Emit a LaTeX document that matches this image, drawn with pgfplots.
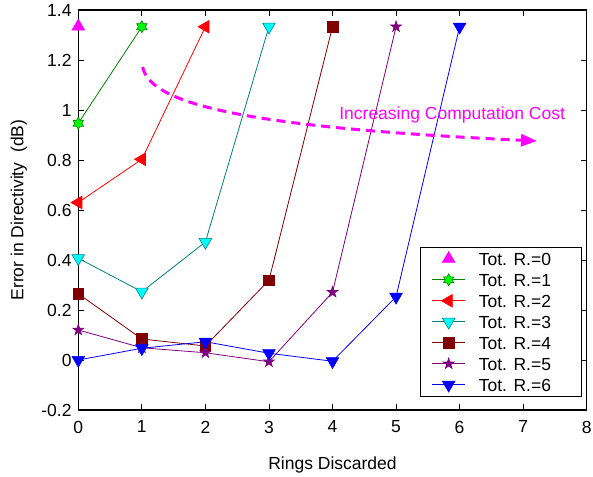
\documentclass[border=0pt]{standalone}
\usepackage{fontspec}
\setmainfont{Liberation Sans}
\usepackage{pgfplots}
\pgfplotsset{compat=1.18}
\usetikzlibrary{arrows.meta}
\newcommand\fs{\fontsize{17.5}{21}\selectfont}
\definecolor{mmag}{rgb}{1,0,1}
\definecolor{mcyan}{rgb}{0,1,1}
\definecolor{mlgreen}{rgb}{0,1,0}
\definecolor{mgreen}{rgb}{0,0.5,0}
\definecolor{mteal}{rgb}{0,0.5,0.5}
\definecolor{mdred}{rgb}{0.5,0,0}
\definecolor{mpurp}{rgb}{0.5,0,0.5}
\definecolor{mred}{rgb}{1,0,0}
\definecolor{mblue}{rgb}{0,0,1}
\pgfdeclareplotmark{hexagram}{%
  \pgfpathmoveto{\pgfpointpolar{90}{\pgfplotmarksize}}%
  \pgfpathlineto{\pgfpointpolar{120}{0.577*\pgfplotmarksize}}%
  \pgfpathlineto{\pgfpointpolar{150}{\pgfplotmarksize}}%
  \pgfpathlineto{\pgfpointpolar{180}{0.577*\pgfplotmarksize}}%
  \pgfpathlineto{\pgfpointpolar{210}{\pgfplotmarksize}}%
  \pgfpathlineto{\pgfpointpolar{240}{0.577*\pgfplotmarksize}}%
  \pgfpathlineto{\pgfpointpolar{270}{\pgfplotmarksize}}%
  \pgfpathlineto{\pgfpointpolar{300}{0.577*\pgfplotmarksize}}%
  \pgfpathlineto{\pgfpointpolar{330}{\pgfplotmarksize}}%
  \pgfpathlineto{\pgfpointpolar{0}{0.577*\pgfplotmarksize}}%
  \pgfpathlineto{\pgfpointpolar{30}{\pgfplotmarksize}}%
  \pgfpathlineto{\pgfpointpolar{60}{0.577*\pgfplotmarksize}}%
  \pgfpathclose\pgfusepathqfillstroke}
\pgfdeclareplotmark{pentagram}{%
  \pgfpathmoveto{\pgfpointpolar{90}{\pgfplotmarksize}}%
  \pgfpathlineto{\pgfpointpolar{126}{0.382*\pgfplotmarksize}}%
  \pgfpathlineto{\pgfpointpolar{162}{\pgfplotmarksize}}%
  \pgfpathlineto{\pgfpointpolar{198}{0.382*\pgfplotmarksize}}%
  \pgfpathlineto{\pgfpointpolar{234}{\pgfplotmarksize}}%
  \pgfpathlineto{\pgfpointpolar{270}{0.382*\pgfplotmarksize}}%
  \pgfpathlineto{\pgfpointpolar{306}{\pgfplotmarksize}}%
  \pgfpathlineto{\pgfpointpolar{342}{0.382*\pgfplotmarksize}}%
  \pgfpathlineto{\pgfpointpolar{18}{\pgfplotmarksize}}%
  \pgfpathlineto{\pgfpointpolar{54}{0.382*\pgfplotmarksize}}%
  \pgfpathclose\pgfusepathqfillstroke}
\newcommand\lentry[1]{\makebox[91pt][l]{\rule[-3pt]{0pt}{18.5pt}#1}}
\begin{document}
\begin{tikzpicture}
\useasboundingbox (-78.3pt,-66pt) rectangle (514.7pt,410pt);
\begin{axis}[
  at={(0,0)}, anchor=south west,
  scale only axis, width=508.4pt, height=400pt,
  xmin=0, xmax=8, ymin=-0.2, ymax=1.4,
  xtick={0,1,2,3,4,5,6,7,8},
  xticklabels={0,1,2,3,4,5,6,7,8},
  ytick={-0.2,0,0.2,0.4,0.6,0.8,1,1.2,1.4},
  yticklabels={-0.2,0,0.2,0.4,0.6,0.8,1,1.2,1.4},
  tick align=inside, major tick length=6pt,
  tick style={black, line width=0.8pt},
  axis line style={black, line width=1.2pt},
  ticklabel style={font=\fs, inner sep=0pt},
  yticklabel style={xshift=-6.6pt},
  xticklabel style={yshift=-10.7pt},
  xlabel={Rings Discarded},
  ylabel={Error in Directivity\ \ (dB)},
  label style={font=\fs},
  xlabel style={at={(axis description cs:0.5,-0.1475)}, anchor=base, inner sep=0pt},
  ylabel style={at={(axis description cs:-0.1082,0.5)}, anchor=base, inner sep=0pt},
  legend style={at={(rel axis cs:0.9907,0.0325)}, anchor=south east,
    draw=black, line width=0.8pt, font=\fs, inner xsep=11.7pt, inner ysep=3.3pt,
    row sep=4pt, column sep=13.3pt, nodes={inner sep=0pt}},
  legend cell align=left,
  legend image code/.code={%
    \path (0pt,0pt) (33pt,0pt);
    \draw[mark repeat=2,mark phase=2] plot coordinates {(0pt,0pt) (16.5pt,0pt) (33pt,0pt)};},
  every axis plot/.append style={line width=0.8pt},
]
\addplot[only marks, mark=triangle*, mark size=7.3pt, mark options={draw=mmag, fill=mmag, line width=0.6pt}]
  coordinates {(0,1.334)};
\addlegendentry{\lentry{Tot. R.=0}}
\addplot[mgreen, mark=hexagram, mark size=6pt, mark options={draw=mgreen, fill=mlgreen, line width=0.6pt}]
  coordinates {(0,0.947) (1,1.333)};
\addlegendentry{\lentry{Tot. R.=1}}
\addplot[mred, mark=triangle*, mark size=7.3pt, mark options={draw=mred, fill=mred, rotate=90, line width=0.6pt}]
  coordinates {(0,0.63) (1,0.803) (2,1.333)};
\addlegendentry{\lentry{Tot. R.=2}}
\addplot[mteal, mark=triangle*, mark size=7.3pt, mark options={draw=mteal, fill=mcyan, rotate=180, line width=0.6pt}]
  coordinates {(0,0.407) (1,0.273) (2,0.472) (3,1.333)};
\addlegendentry{\lentry{Tot. R.=3}}
\addplot[mdred, mark=square*, mark size=5.3pt, mark options={draw=mdred, fill=mdred, line width=0.6pt}]
  coordinates {(0,0.265) (1,0.084) (2,0.056) (3,0.319) (4,1.333)};
\addlegendentry{\lentry{Tot. R.=4}}
\addplot[mpurp, mark=pentagram, mark size=5.8pt, mark options={draw=mpurp, fill=mpurp, line width=0.6pt}]
  coordinates {(0,0.12) (1,0.049) (2,0.029) (3,-0.007) (4,0.271) (5,1.333)};
\addlegendentry{\lentry{Tot. R.=5}}
\addplot[mblue, mark=triangle*, mark size=7.3pt, mark options={draw=mblue, fill=mblue, rotate=180, line width=0.6pt}]
  coordinates {(0,0) (1,0.047) (2,0.073) (3,0.027) (4,-0.005) (5,0.253) (6,1.333)};
\addlegendentry{\lentry{Tot. R.=6}}
\draw[mmag, line width=3pt, dash pattern=on 9pt off 6pt, -{Triangle[length=16pt,width=12pt]}]
  (axis cs:1.013,1.172) .. controls (axis cs:1.128,1.02) and (axis cs:2.702,0.93) .. (axis cs:7.218,0.876);
\node[mmag, font=\fs, anchor=base, inner sep=0pt] at (axis cs:5.883,0.963) {Increasing Computation Cost};
\end{axis}
\end{tikzpicture}
\end{document}
